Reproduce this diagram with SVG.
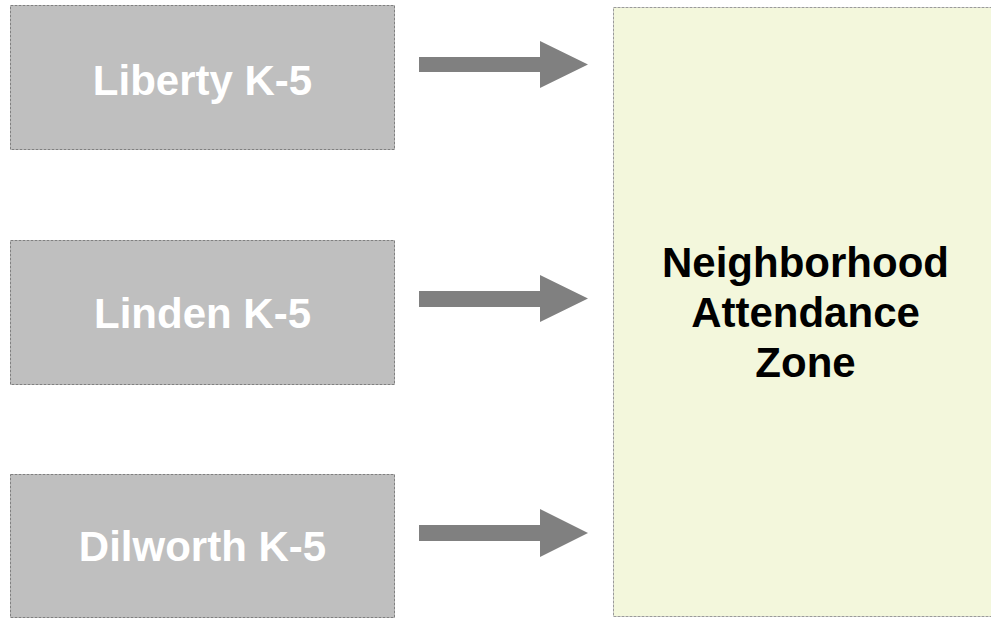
<svg xmlns="http://www.w3.org/2000/svg" width="991" height="618" viewBox="0 0 991 618">
<style>
.src{fill:#BFBFBF;stroke:#808080;stroke-width:1;stroke-dasharray:3,1}
.dst{fill:#F3F7DC;stroke:#9A9A9A;stroke-width:1;stroke-dasharray:3,1}
.lbl{font-family:"Liberation Sans",Arial,sans-serif;font-weight:bold;font-size:42px;text-anchor:middle}
.w{fill:#FFFFFF}
.k{fill:#000000}
.arr{fill:#808080}
</style>
<rect width="991" height="618" fill="#FFFFFF"/>
<g id="zone">
<rect class="dst" x="613.5" y="7.5" width="385" height="609"/>
<text class="lbl k" x="805.5" y="277">Neighborhood</text>
<text class="lbl k" x="805.5" y="327">Attendance</text>
<text class="lbl k" x="805.5" y="377">Zone</text>
</g>
<g id="liberty">
<rect class="src" x="10.5" y="5.5" width="384" height="144"/>
<text class="lbl w" x="202.5" y="95">Liberty K-5</text>
</g>
<g id="linden">
<rect class="src" x="10.5" y="240.5" width="384" height="144"/>
<text class="lbl w" x="202.5" y="328">Linden K-5</text>
</g>
<g id="dilworth">
<rect class="src" x="10.5" y="474.5" width="384" height="143"/>
<text class="lbl w" x="202.5" y="561">Dilworth K-5</text>
</g>
<g id="connectors">
<polygon class="arr" points="419,57 540,57 540,41 588,64.5 540,88 540,72 419,72"/>
<polygon class="arr" points="419,291 540,291 540,275 588,298.5 540,322 540,307 419,307"/>
<polygon class="arr" points="419,525 540,525 540,509 588,533 540,557 540,541 419,541"/>
</g>
</svg>
